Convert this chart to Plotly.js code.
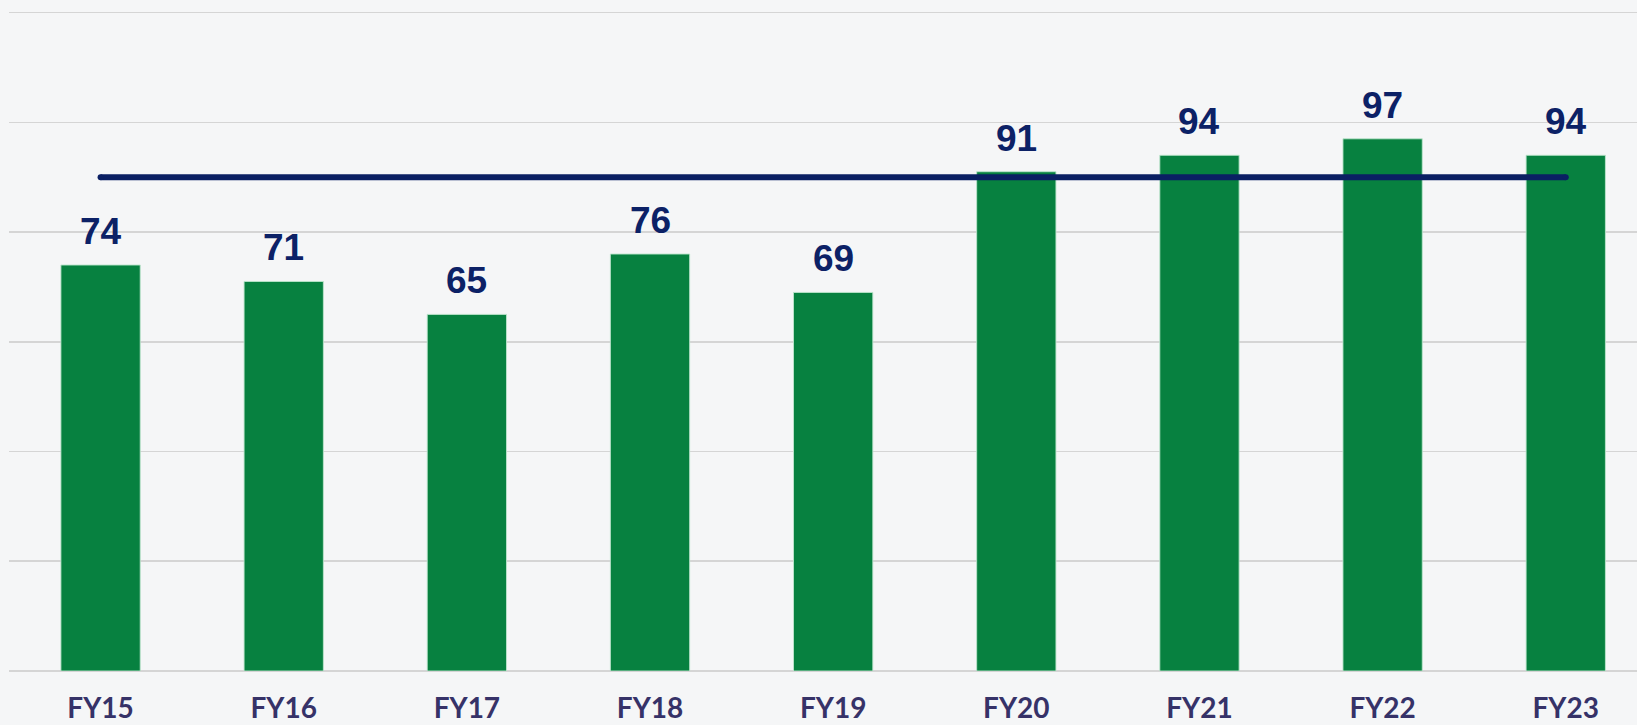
<!DOCTYPE html>
<html>
<head>
<meta charset="utf-8">
<script src="https://cdn.plot.ly/plotly-3.0.1.min.js"></script>
<style>
html,body{margin:0;padding:0;background:#f5f6f7;}
#chart{width:1637px;height:725px;}
</style>
</head>
<body>
<div id="chart"></div>
<script>
const categories = ["FY15","FY16","FY17","FY18","FY19","FY20","FY21","FY22","FY23"];
const values = [74, 71, 65, 76, 69, 91, 94, 97, 94];
const averageLevel = 90;
const averageLine = categories.map(() => averageLevel);

const barTrace = {
  type: 'bar',
  x: categories,
  y: values,
  width: 0.433,
  marker: {color: '#078140', line: {color: 'rgba(190,230,205,0.9)', width: 1}},
  hoverinfo: 'x+y',
  showlegend: false
};

const lineTrace = {
  type: 'scatter',
  mode: 'lines',
  x: categories,
  y: averageLine,
  line: {color: '#0a1f63', width: 6},
  showlegend: false,
  hoverinfo: 'skip'
};

const capTrace = {
  type: 'scatter',
  mode: 'markers',
  x: [categories[0], categories[categories.length-1]],
  y: [averageLevel, averageLevel],
  marker: {color: '#0a1f63', size: 6, line: {width: 0}},
  showlegend: false,
  hoverinfo: 'skip'
};

const annotations = categories.map((c, i) => ({
  x: c, y: values[i], xref: 'x', yref: 'y',
  text: String(values[i]),
  showarrow: false,
  yanchor: 'bottom',
  yshift: 11,
  font: {family: 'Liberation Sans, Arial, sans-serif', size: 37, color: '#0c2166', weight: 'bold'}
}));

const layout = {
  width: 1637,
  height: 725,
  margin: {l: 9, r: 0, t: 0, b: 54},
  paper_bgcolor: '#f5f6f7',
  plot_bgcolor: 'rgba(0,0,0,0)',
  xaxis: {
    type: 'category',
    range: [-0.5, 8.389],
    showgrid: false,
    zeroline: false,
    showline: false,
    ticks: '',
    ticklabelstandoff: 18,
    tickfont: {family: 'Lato, Open Sans, sans-serif', size: 28, color: '#363268', weight: 'bold'}
  },
  yaxis: {
    range: [0, 122.3],
    dtick: 20,
    tick0: 0,
    showgrid: true,
    gridcolor: '#d5d5d5',
    gridwidth: 1.6,
    zeroline: true,
    zerolinecolor: '#d5d5d5',
    zerolinewidth: 1.6,
    showticklabels: false,
    ticks: ''
  },
  annotations: annotations
};

Plotly.newPlot('chart', [barTrace, lineTrace, capTrace], layout, {displayModeBar: false, staticPlot: true});
</script>
</body>
</html>
